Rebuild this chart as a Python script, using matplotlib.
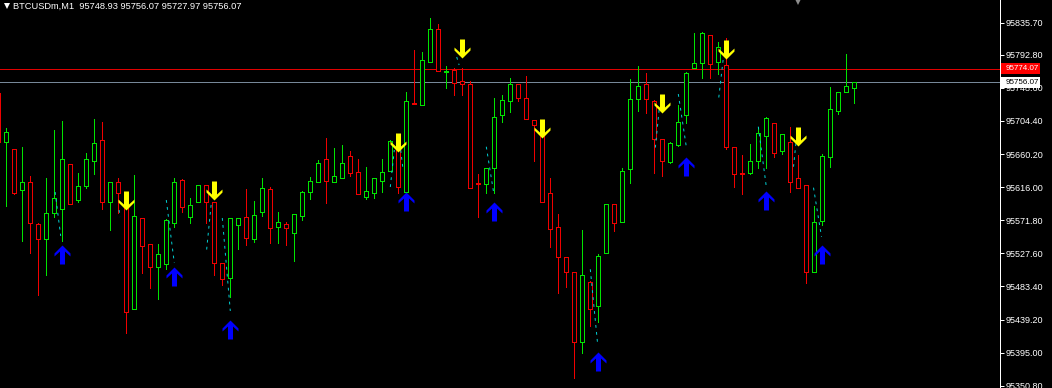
import matplotlib
matplotlib.use("Agg")
import matplotlib.pyplot as plt
import numpy as np
from matplotlib.patches import Rectangle
from matplotlib.path import Path
from matplotlib.lines import Line2D
from matplotlib.transforms import blended_transform_factory

plt.rcParams['font.family'] = ['Liberation Sans', 'DejaVu Sans']

# chart data (BTCUSDm, M1), bar -1 is the partly visible one at the left edge
symbol = "BTCUSDm,M1"
bar_index = np.arange(-1, 107)
opens = [95741.8,
         95676.3, 95667.0, 95612.2, 95622.9, 95566.8, 95546.7, 95581.5, 95586.8, 95646.9, 95598.8,
         95617.5, 95650.9, 95679.0, 95596.2, 95622.9, 95604.2, 95453.2, 95574.8, 95540.1, 95509.3,
         95513.3, 95568.1, 95625.6, 95576.1, 95596.2, 95618.9, 95596.2, 95514.7, 95494.6, 95565.4,
         95576.1, 95546.7, 95582.8, 95613.5, 95562.8, 95566.8, 95554.8, 95577.5, 95609.5, 95622.9,
         95653.6, 95622.9, 95628.2, 95657.6, 95636.2, 95602.8, 95608.2, 95624.2, 95637.6, 95665.6,
         95609.5, 95728.4, 95725.7, 95783.2, 95827.3, 95769.8, 95772.5, 95757.8, 95753.8, 95621.5,
         95620.2, 95641.6, 95712.4, 95731.1, 95753.8, 95735.1, 95705.7, 95684.3, 95608.2, 95562.8,
         95522.7, 95502.7, 95409.2, 95489.3, 95457.2, 95528.0, 95593.5, 95569.5, 95640.3, 95733.8,
         95753.8, 95731.1, 95680.3, 95649.6, 95672.3, 95712.4, 95775.2, 95781.8, 95819.2, 95783.2,
         95779.2, 95669.6, 95634.9, 95634.9, 95650.9, 95684.3, 95701.7, 95664.3, 95676.3, 95628.2,
         95618.9, 95502.7, 95570.8, 95656.3, 95717.7, 95743.1, 95748.93]
highs = [95745.0,
         95695.0, 95667.0, 95669.6, 95630.9, 95568.1, 95628.2, 95692.3, 95704.4, 95646.9, 95634.9,
         95661.6, 95707.0, 95703.0, 95622.9, 95628.2, 95605.5, 95632.2, 95574.8, 95540.1, 95540.1,
         95573.5, 95628.2, 95626.9, 95601.5, 95618.9, 95618.9, 95596.2, 95514.7, 95574.8, 95574.8,
         95613.5, 95597.5, 95628.2, 95616.2, 95582.8, 95569.5, 95580.1, 95610.9, 95629.6, 95652.3,
         95681.7, 95668.3, 95672.3, 95664.3, 95653.6, 95642.9, 95628.2, 95653.6, 95679.0, 95679.0,
         95743.1, 95799.2, 95796.5, 95842.0, 95833.9, 95777.8, 95775.2, 95775.2, 95757.8, 95633.6,
         95641.6, 95735.1, 95739.1, 95761.8, 95753.8, 95764.5, 95705.7, 95688.3, 95628.2, 95580.1,
         95522.7, 95502.7, 95558.8, 95490.6, 95526.7, 95593.5, 95593.5, 95641.6, 95760.5, 95777.8,
         95768.5, 95732.4, 95680.3, 95676.3, 95725.7, 95769.8, 95821.9, 95823.3, 95819.2, 95809.9,
         95815.2, 95669.6, 95659.0, 95673.6, 95696.4, 95709.7, 95701.7, 95687.0, 95696.4, 95659.0,
         95618.9, 95590.8, 95660.3, 95749.8, 95743.1, 95793.9, 95756.07]
lows = [95670.0,
        95590.8, 95606.9, 95544.1, 95528.0, 95471.9, 95498.7, 95576.1, 95544.1, 95593.5, 95596.2,
        95614.9, 95633.6, 95586.8, 95558.8, 95581.5, 95421.2, 95453.2, 95501.3, 95481.3, 95466.6,
        95506.7, 95562.8, 95582.8, 95568.1, 95596.2, 95568.1, 95498.7, 95485.3, 95469.3, 95533.4,
        95538.7, 95542.7, 95577.5, 95541.4, 95541.4, 95538.7, 95517.4, 95572.1, 95600.2, 95622.9,
        95594.8, 95622.9, 95628.2, 95630.9, 95606.9, 95600.2, 95601.5, 95609.5, 95637.6, 95608.2,
        95609.5, 95727.1, 95725.7, 95783.2, 95771.2, 95748.4, 95739.1, 95739.1, 95614.9, 95576.1,
        95608.2, 95608.2, 95703.0, 95716.4, 95731.1, 95707.0, 95650.9, 95596.2, 95536.1, 95474.6,
        95482.6, 95361.1, 95394.5, 95430.5, 95435.9, 95528.0, 95557.4, 95569.5, 95621.5, 95717.7,
        95715.1, 95634.9, 95630.9, 95648.3, 95671.0, 95701.7, 95775.2, 95761.8, 95761.8, 95767.2,
        95667.0, 95616.2, 95606.9, 95633.6, 95641.6, 95641.6, 95656.3, 95660.3, 95609.5, 95614.9,
        95488.0, 95502.7, 95565.4, 95642.9, 95713.7, 95743.1, 95727.97]
closes = [95676.3,
          95689.7, 95608.2, 95622.9, 95568.1, 95546.7, 95581.5, 95601.5, 95653.6, 95593.5, 95617.5,
          95653.6, 95675.0, 95596.2, 95622.9, 95608.2, 95449.2, 95577.5, 95537.4, 95509.3, 95526.7,
          95572.1, 95622.9, 95589.5, 95592.2, 95618.9, 95596.2, 95514.7, 95493.3, 95574.8, 95574.8,
          95548.1, 95578.8, 95614.9, 95561.4, 95569.5, 95561.4, 95580.1, 95609.5, 95624.2, 95648.3,
          95624.2, 95630.9, 95648.3, 95634.9, 95606.9, 95610.9, 95628.2, 95636.2, 95677.7, 95616.2,
          95731.1, 95727.1, 95785.9, 95827.3, 95771.2, 95771.2, 95755.1, 95753.8, 95614.9, 95620.2,
          95641.6, 95709.7, 95732.4, 95753.8, 95735.1, 95707.0, 95699.0, 95596.2, 95560.1, 95522.7,
          95502.7, 95409.2, 95498.7, 95453.2, 95524.0, 95593.5, 95568.1, 95637.6, 95733.8, 95751.1,
          95733.8, 95680.3, 95650.9, 95675.0, 95703.0, 95768.5, 95781.8, 95821.9, 95780.5, 95803.2,
          95669.6, 95633.6, 95633.6, 95650.9, 95688.3, 95708.4, 95661.6, 95687.0, 95622.9, 95614.9,
          95502.7, 95569.5, 95657.6, 95720.4, 95743.1, 95751.1, 95756.07]

# signal arrows: bar and price at the arrow tip
buy_bars = [7, 21, 28, 50, 61, 74, 85, 95, 102]
buy_levels = [95538.7, 95509.3, 95438.5, 95609.5, 95596.2, 95395.8, 95656.3, 95610.9, 95538.7]
sell_bars = [15, 26, 49, 57, 67, 82, 90, 99]
sell_levels = [95585.5, 95598.8, 95663.0, 95788.5, 95681.7, 95715.1, 95787.2, 95671.0]

# dotted indicator pieces: (bar0, price0, bar1, price1)
trail_segments = [
    (6.1, 95609.5, 6.8, 95550.8), (14.1, 95585.5, 14.2, 95576.1),
    (20.0, 95598.8, 21.0, 95514.7), (25.6, 95592.2, 25.0, 95528.0),
    (27.0, 95574.8, 28.0, 95450.6), (48.0, 95616.2, 48.5, 95665.6),
    (49.3, 95665.6, 49.6, 95638.9), (56.3, 95789.9, 56.6, 95779.2),
    (60.0, 95670.0, 60.9, 95609.9), (73.0, 95506.3, 73.9, 95408.2),
    (81.6, 95719.1, 81.1, 95665.6), (84.0, 95740.4, 85.0, 95670.0),
    (89.6, 95785.9, 89.0, 95730.2), (94.0, 95696.8, 95.0, 95616.6),
    (98.7, 95674.6, 98.4, 95643.3), (100.9, 95615.3, 101.9, 95549.8),
    (106.0, 95705.0, 106.0, 95703.8),
]

ask_price = 95774.07
bid_price = 95756.07
price_ticks = [95835.70, 95792.80, 95748.60, 95704.40, 95660.20, 95616.00,
               95571.80, 95527.60, 95483.40, 95439.20, 95395.00, 95350.80]

bull = '#00e400'
bear = '#f00000'
px = 0.72  # one pixel in points

fig = plt.figure(figsize=(10.52, 3.88), dpi=100, facecolor='black')
ax = fig.add_axes([0, 0, 1000 / 1052, 1])
ax.set_facecolor('black')
ax.set_xlim(-0.7875, 124.2125)
ax.set_ylim(95347.7, 95866.0)

# price lines
ax.axhline(ask_price, color='#e00000', lw=px, zorder=1, antialiased=False)
ax.axhline(bid_price, color='#778899', lw=px, zorder=1, antialiased=False)

# candles
for i, o, h, l, c in zip(bar_index, opens, highs, lows, closes):
    col = bull if c >= o else bear
    ax.vlines(i, l, h, color=col, lw=px, zorder=2, antialiased=False)
    lo, hi = min(o, c), max(o, c)
    ax.add_patch(Rectangle((i - 0.25, lo), 0.5, hi - lo, facecolor='black',
                           edgecolor=col, lw=px, zorder=3, antialiased=False))

# dotted indicator
for b0, p0, b1, p1 in trail_segments:
    ax.plot([b0, b1], [p0, p1], color='#00ced1', lw=px, ls=(0, (2.8, 4.2)), zorder=4)

# arrow markers, tip at the origin
up_verts = [(0, 0), (8, -8), (8, -11), (2.5, -6), (2.5, -19), (-2.5, -19),
            (-2.5, -6), (-8, -11), (-8, -8), (0, 0)]
up_arrow = Path(up_verts, closed=True)
down_arrow = Path([(x, -y) for x, y in up_verts], closed=True)
msize = 2 * 19 / (100 / 72)
ax.plot(buy_bars, buy_levels, ls='none', marker=up_arrow, markersize=msize,
        color='#0000ff', markeredgewidth=0, zorder=5)
ax.plot(sell_bars, sell_levels, ls='none', marker=down_arrow, markersize=msize,
        color='#ffff00', markeredgewidth=0, zorder=5)

# right price scale
for s in ['top', 'left', 'bottom']:
    ax.spines[s].set_visible(False)
ax.spines['right'].set_color('#ffffff')
ax.spines['right'].set_linewidth(px)
ax.set_xticks([])
ax.yaxis.tick_right()
ax.set_yticks(price_ticks)
ax.set_yticklabels(['%.2f' % t for t in price_ticks])
ax.tick_params(axis='y', length=4 * px, width=px, color='#ffffff',
               labelcolor='#ffffff', labelsize=6.5, pad=2 * px)

trans = blended_transform_factory(ax.transAxes, ax.transData)
half = 5.5 * 1.3358
for price, face, txt in [(ask_price, '#ff0000', '#ffffff'), (bid_price, '#ffffff', '#000000')]:
    ax.add_patch(Rectangle((1.001, price - half), 0.039, 2 * half, transform=trans,
                           facecolor=face, edgecolor='none', clip_on=False, zorder=10))
    ax.text(1.0055, price, '%.2f' % price, transform=trans, color=txt, fontsize=5.8,
            va='center', ha='left', clip_on=False, zorder=11)

# header
fig.add_artist(Line2D([7 / 1052], [1 - 6 / 388], marker='v', markersize=4.5, color='#ffffff',
                      markeredgewidth=0, transform=fig.transFigure))
fig.add_artist(Line2D([798 / 1052], [1 - 1.5 / 388], marker='v', markersize=5, color='#8c8c8c',
                      markeredgewidth=0, transform=fig.transFigure))
fig.text(13 / 1052, 1 - 6.5 / 388,
         '%s  %.2f %.2f %.2f %.2f' % (symbol, opens[-1], highs[-1], lows[-1], closes[-1]),
         color='#ffffff', fontsize=6.7, va='center', ha='left')

fig.savefig('out.png', dpi=100, facecolor='black')
